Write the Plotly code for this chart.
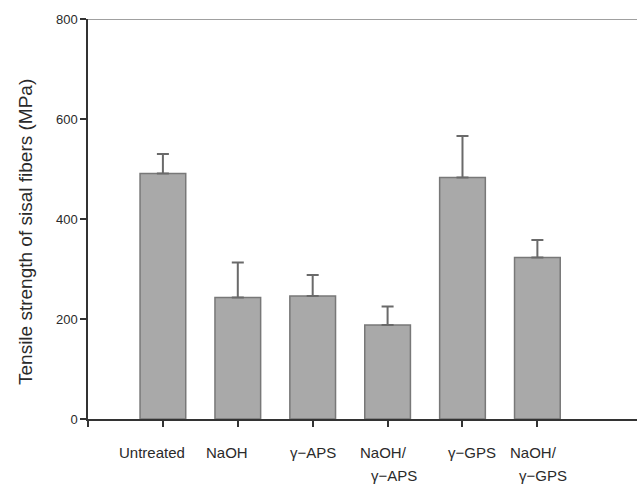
import plotly.graph_objects as go

categories = ["Untreated", "NaOH", "γ−APS", "NaOH/<br>γ−APS", "γ−GPS", "NaOH/<br>γ−GPS"]
strength = [491, 243, 246, 188, 483, 323]
error_up = [39, 70, 42, 37, 83, 35]
# horizontal nudges of each label line (px), second value for the second line
label_shift = [(-11,), (-11,), (0,), (-4, 6), (10,), (-4, 6)]
y_ticks = [0, 200, 400, 600, 800]

xpos = list(range(len(categories)))
FONT = "Liberation Sans, Arial"

fig = go.Figure()
fig.add_trace(go.Bar(
    x=xpos, y=strength, width=0.61,
    marker=dict(color="#a9a9a9", line=dict(color="#787878", width=1.5)),
    error_y=dict(type="data", symmetric=False, array=error_up, arrayminus=[0] * len(strength),
                 color="#6a6a6a", thickness=2, width=6),
    showlegend=False,
))

for i, (c, shifts) in enumerate(zip(categories, label_shift)):
    for j, line in enumerate(c.split("<br>")):
        fig.add_annotation(x=i, y=0, xref="x", yref="y", text=line, showarrow=False,
                           xanchor="center", yanchor="middle", yshift=-33 - 23 * j, xshift=shifts[j],
                           font=dict(family=FONT, size=15, color="#2a2a2a"))

fig.add_annotation(x=0, y=0.4675, xref="paper", yref="paper", xshift=-63,
                   text="Tensile strength of sisal fibers (MPa)", textangle=-90,
                   showarrow=False, xanchor="center", yanchor="middle",
                   font=dict(family=FONT, size=19, color="#2a2a2a"))

fig.add_shape(type="line", xref="paper", yref="y", x0=0, x1=1, y0=800, y1=800,
              line=dict(color="#a0a0a0", width=2))

fig.update_layout(
    width=637, height=485,
    margin=dict(l=88, r=0, t=19, b=66),
    plot_bgcolor="white", paper_bgcolor="white",
    xaxis=dict(range=[-1, 6.33], tickvals=[-1] + xpos, ticktext=[""] * (len(xpos) + 1),
               showline=True, linecolor="#333333", linewidth=1.5,
               ticks="outside", ticklen=6, tickcolor="#333333", tickwidth=1.5,
               showgrid=False, zeroline=False),
    yaxis=dict(range=[0, 800], tickvals=y_ticks, showline=True, linecolor="#333333", linewidth=1.5,
               ticks="outside", ticklen=6, tickcolor="#333333", tickwidth=1.5,
               showgrid=False, zeroline=False,
               tickfont=dict(family=FONT, size=13, color="#2a2a2a")),
)

fig.write_html("out.html")
